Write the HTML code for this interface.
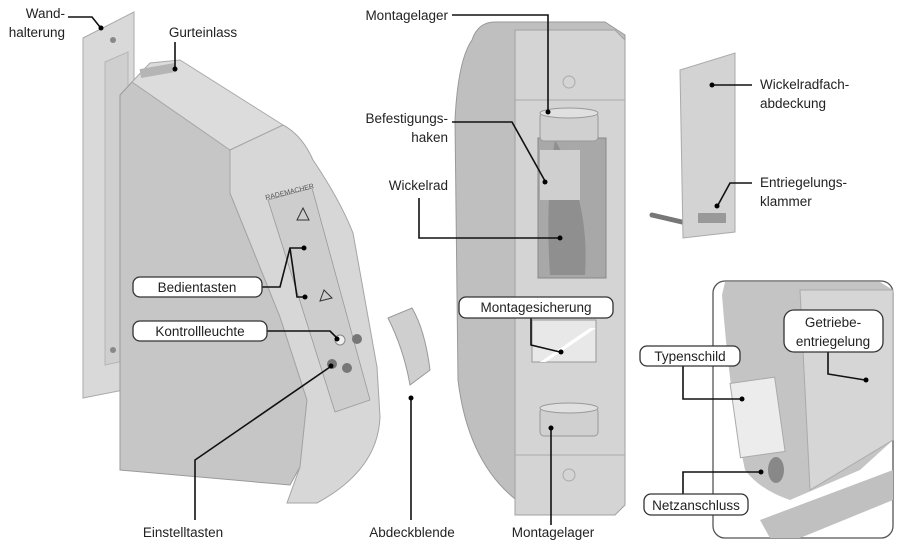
<!DOCTYPE html>
<html><head><meta charset="utf-8"><style>
html,body{margin:0;padding:0;background:#fff}
svg{display:block}
text{font-family:"Liberation Sans",sans-serif;font-size:13.5px;fill:#222}
.l{stroke:#111;stroke-width:1.6;fill:none}
.box{fill:#fff;stroke:#333;stroke-width:1.3}
</style></head><body>
<svg width="900" height="544" viewBox="0 0 900 544" xmlns="http://www.w3.org/2000/svg">
<!-- wall bracket -->
<polygon points="83,38 134,12 134,388 83,398" fill="#d9d9d9" stroke="#aaa"/>
<polygon points="105,62 128,52 128,360 105,365" fill="#cfcfcf" stroke="#b5b5b5"/>
<circle cx="113" cy="40" r="3" fill="#888"/><circle cx="113" cy="350" r="3" fill="#888"/>
<!-- left device body -->
<path d="M120,95 L132,82 L230,150 L230,193 L280,317 L307,400 L300,467 L290,485 L120,470 Z" fill="#c6c6c6" stroke="#9a9a9a"/>
<path d="M132,82 L150,63 L180,60 L283,125 L230,150 Z" fill="#dcdcdc" stroke="#aaa"/>
<rect x="140" y="66" width="36" height="9" fill="#b5b5b5" transform="rotate(-10 158 70)"/>
<path d="M230,150 L283,125 Q302,135 313,160 Q340,200 353,233 L377,367 L380,417 Q378,470 317,503 L287,503 L300,467 L307,400 L280,317 L230,193 Z" fill="#d7d7d7" stroke="#a5a5a5"/>
<path d="M268,200 L312,188 L370,400 L335,412 Z" fill="#cdcdcd" stroke="#999" stroke-width="0.8"/>
<text x="266" y="200" style="font-size:7px;fill:#555" transform="rotate(-14 266 200)">RADEMACHER</text>
<path d="M297,220 L303,208 L309,220 Z" fill="none" stroke="#333"/>
<path d="M324,290 L332,298 L320,301 Z" fill="none" stroke="#333"/>
<circle cx="340" cy="340" r="5" fill="#eee" stroke="#888"/>
<circle cx="357" cy="339" r="5" fill="#777"/><circle cx="332" cy="364" r="5" fill="#777"/><circle cx="347" cy="368" r="5" fill="#777"/>
<!-- abdeckblende -->
<path d="M388,318 L412,308 Q425,330 430,370 L410,385 Q404,350 388,318 Z" fill="#cfcfcf" stroke="#999"/>
<!-- middle device -->
<path d="M472,40 Q478,22 495,22 L605,22 L625,35 L625,500 L615,515 L540,515 Q470,480 458,380 L455,120 Q458,60 472,40 Z" fill="#bfbfbf" stroke="#999"/>
<path d="M515,30 L615,30 L625,40 L625,505 L615,515 L515,515 Z" fill="#d4d4d4" stroke="#a0a0a0"/>
<line x1="515" y1="100" x2="625" y2="100" stroke="#aaa"/><line x1="515" y1="455" x2="625" y2="455" stroke="#aaa"/>
<circle cx="569" cy="82" r="6" fill="none" stroke="#aaa"/><circle cx="569" cy="475" r="6" fill="none" stroke="#aaa"/>
<rect x="538" y="138" width="68" height="140" fill="#a8a8a8" stroke="#888"/>
<path d="M555,140 Q590,200 585,275 L550,275 Q545,200 555,140 Z" fill="#8f8f8f"/>
<rect x="540" y="150" width="40" height="50" fill="#cfcfcf"/>
<rect x="540" y="113" width="58" height="28" rx="4" fill="#d0d0d0" stroke="#999"/>
<ellipse cx="569" cy="113" rx="29" ry="5" fill="#e0e0e0" stroke="#999"/>
<rect x="532" y="320" width="64" height="42" fill="#e8e8e8" stroke="#999"/>
<polygon points="540,362 590,328 596,328 546,362" fill="#fff"/>
<rect x="540" y="408" width="58" height="28" rx="4" fill="#d0d0d0" stroke="#999"/>
<ellipse cx="569" cy="408" rx="29" ry="5" fill="#e0e0e0" stroke="#999"/>
<!-- cover -->
<line x1="652" y1="215" x2="682" y2="222" stroke="#777" stroke-width="5" stroke-linecap="round"/>
<polygon points="680,70 735,53 735,232 683,238" fill="#d3d3d3" stroke="#aaa"/>
<rect x="698" y="213" width="28" height="10" fill="#999"/>
<!-- inset -->
<rect x="713" y="281" width="180" height="257" rx="12" fill="#fff" stroke="#555" stroke-width="1.3"/>
<path d="M722,295 L725,282 L880,282 L893,290 L893,440 L860,470 L790,500 Q760,490 745,470 Q730,400 722,295 Z" fill="#c4c4c4"/>
<path d="M800,290 L893,290 L893,440 L810,490 Z" fill="#d6d6d6" stroke="#aaa"/>
<path d="M760,520 L893,470 L893,500 L800,538 L770,538 Z" fill="#c0c0c0"/>
<rect x="735" y="380" width="45" height="75" fill="#ececec" stroke="#aaa" transform="rotate(-8 757 417)"/>
<ellipse cx="776" cy="470" rx="8" ry="13" fill="#888"/>
<!-- connectors -->
<path class="l" d="M68,17 L92,17 L100,27"/><circle cx="101" cy="28" r="2.5"/>
<path class="l" d="M175,42 L175,68"/><circle cx="175" cy="69" r="2.5"/>
<path class="l" d="M262,287 L280,287 L290,248 L303,248 M290,248 L297,297 L305,297"/><circle cx="304" cy="248" r="2.5"/><circle cx="305" cy="297" r="2.5"/>
<path class="l" d="M267,331 L330,331 L337,338"/><circle cx="337" cy="339" r="2.5"/>
<path class="l" d="M195,520 L195,460 L330,367"/><circle cx="331" cy="366" r="2.5"/>
<path class="l" d="M411,520 L411,400"/><circle cx="411" cy="398" r="2.5"/>
<path class="l" d="M452,15 L548,15 L548,112"/><circle cx="548" cy="112" r="2.5"/>
<path class="l" d="M452,122 L512,122 L545,181"/><circle cx="545" cy="182" r="2.5"/>
<path class="l" d="M419,198 L419,238 L560,238"/><circle cx="560" cy="238" r="2.5"/>
<path class="l" d="M531,318 L531,345 L560,352"/><circle cx="561" cy="352" r="2.5"/>
<path class="l" d="M551,525 L551,428"/><circle cx="551" cy="428" r="2.5"/>
<path class="l" d="M712,85 L752,85"/><circle cx="712" cy="85" r="2.5"/>
<path class="l" d="M752,183 L730,183 L718,205"/><circle cx="717" cy="206" r="2.5"/>
<path class="l" d="M683,366 L683,399 L742,399"/><circle cx="742" cy="399" r="2.5"/>
<path class="l" d="M828,352 L828,374 L865,380"/><circle cx="866" cy="380" r="2.5"/>
<path class="l" d="M683,494 L683,472 L760,472"/><circle cx="761" cy="472" r="2.5"/>
<!-- label boxes -->
<rect class="box" x="133" y="277" width="129" height="20" rx="7"/>
<rect class="box" x="133" y="321" width="134" height="20" rx="7"/>
<rect class="box" x="459" y="297" width="154" height="21" rx="7"/>
<rect class="box" x="784" y="310" width="99" height="42" rx="10"/>
<rect class="box" x="640" y="346" width="100" height="20" rx="7"/>
<rect class="box" x="644" y="494" width="104" height="21" rx="7"/>
<!-- texts -->
<text x="65" y="18" text-anchor="end">Wand-</text>
<text x="65" y="37" text-anchor="end">halterung</text>
<text x="203" y="37" text-anchor="middle">Gurteinlass</text>
<text x="197" y="292" text-anchor="middle">Bedientasten</text>
<text x="200" y="336" text-anchor="middle">Kontrollleuchte</text>
<text x="183" y="537" text-anchor="middle">Einstelltasten</text>
<text x="412" y="537" text-anchor="middle">Abdeckblende</text>
<text x="448" y="20" text-anchor="end">Montagelager</text>
<text x="448" y="123" text-anchor="end">Befestigungs-</text>
<text x="448" y="142" text-anchor="end">haken</text>
<text x="448" y="190" text-anchor="end">Wickelrad</text>
<text x="536" y="312" text-anchor="middle">Montagesicherung</text>
<text x="553" y="537" text-anchor="middle">Montagelager</text>
<text x="760" y="89">Wickelradfach-</text>
<text x="760" y="108">abdeckung</text>
<text x="760" y="187">Entriegelungs-</text>
<text x="760" y="206">klammer</text>
<text x="833" y="327" text-anchor="middle">Getriebe-</text>
<text x="833" y="346" text-anchor="middle">entriegelung</text>
<text x="690" y="361" text-anchor="middle">Typenschild</text>
<text x="696" y="510" text-anchor="middle">Netzanschluss</text>
</svg>
</body></html>
